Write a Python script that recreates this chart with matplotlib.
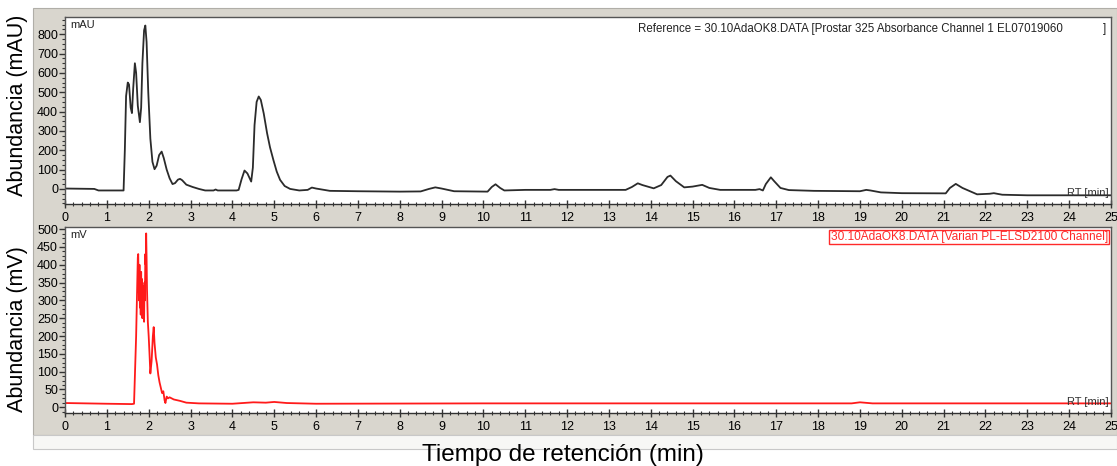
import numpy as np
import matplotlib.pyplot as plt
from matplotlib.patches import Rectangle
from matplotlib.ticker import MultipleLocator, AutoMinorLocator

plt.rcParams['font.family'] = ['Liberation Sans', 'DejaVu Sans']

# UV trace (Prostar 325, mAU)
uv_t = [0.0, 0.7, 0.8, 1.40, 1.43, 1.46, 1.50, 1.53, 1.57, 1.60, 1.63, 1.67, 1.70,
        1.74, 1.79, 1.82, 1.85, 1.89, 1.92, 1.95, 1.99, 2.04, 2.09, 2.14, 2.19, 2.25,
        2.31, 2.36, 2.43, 2.50, 2.57, 2.63, 2.70, 2.75, 2.80, 2.90, 3.05, 3.20, 3.35,
        3.55, 3.60, 3.65, 4.10, 4.15, 4.22, 4.29, 4.36, 4.45, 4.49, 4.53, 4.58, 4.63,
        4.68, 4.75, 4.83, 4.90, 4.98, 5.06, 5.14, 5.25, 5.38, 5.6, 5.8, 5.9, 6.0, 6.33,
        7.0, 8.0, 8.5, 8.7, 8.85, 9.0, 9.3, 10.1, 10.2, 10.29, 10.4, 10.5, 11.0, 11.6,
        11.7, 11.8, 13.4, 13.55, 13.69, 13.8, 14.07, 14.25, 14.4, 14.47, 14.6, 14.8,
        15.0, 15.23, 15.4, 15.66, 16.5, 16.6, 16.68, 16.75, 16.87, 16.95, 17.1, 17.3,
        17.9, 19.0, 19.15, 19.25, 19.5, 20.0, 21.05, 21.15, 21.29, 21.45, 21.8, 22.1,
        22.2, 22.4, 23.0, 24.0, 25.0]
uv_mau = [2, 0, -8, -8, 200, 480, 550, 540, 420, 392, 520, 650, 600,
          430, 345, 420, 650, 820, 845, 760, 500, 260, 140, 102, 120, 175,
          193, 160, 100, 55, 25, 30, 48, 52, 45, 22, 10, 0, -8,
          -8, -3, -8, -8, -5, 50, 95, 80, 38, 110, 330, 450, 478,
          460, 390, 288, 215, 150, 90, 47, 15, 0, -8, -5, 7, 2, -10,
          -12, -14, -13, 0, 8, 2, -12, -14, 10, 24, 5, -8, -5, -5,
          -1, -5, -5, 10, 29, 20, 3, 20, 62, 69, 40, 8,
          12, 21, 5, -5, -5, -1, -8, 25, 60, 40, 5, -6,
          -10, -12, -5, -8, -18, -22, -23, 5, 26, 5, -28, -25,
          -22, -30, -33, -33, -33]

# ELSD trace (Varian PL-ELSD2100, mV)
elsd_t = [0.0, 0.5, 1.0, 1.6, 1.65, 1.70, 1.74, 1.75, 1.76, 1.77, 1.78, 1.79, 1.80,
          1.81, 1.82, 1.83, 1.84, 1.85, 1.86, 1.87, 1.88, 1.89, 1.90, 1.91, 1.92,
          1.93, 1.94, 1.95, 1.96, 1.98, 2.00, 2.02, 2.04, 2.07, 2.10, 2.12, 2.14,
          2.17, 2.20, 2.23, 2.26, 2.29, 2.32, 2.35, 2.38, 2.40, 2.43, 2.46, 2.50,
          2.60, 2.75, 2.90, 3.2, 4.0, 4.5, 4.8, 5.0, 5.3, 6.0, 10.0, 15.0, 18.8,
          19.0, 19.3, 25.0]
elsd_mv = [12, 11, 10, 9, 10, 200, 420, 430, 350, 300, 400, 280, 330,
           260, 380, 300, 360, 250, 340, 270, 330, 240, 350, 300, 430,
           400, 488, 420, 330, 240, 200, 150, 95, 130, 200, 225, 180,
           140, 120, 90, 70, 55, 40, 45, 20, 12, 30, 25, 28,
           22, 18, 13, 11, 10, 14, 13, 15, 12, 10, 11, 11, 11,
           14, 11, 11]

fig = plt.figure(figsize=(11.17, 4.66), dpi=100)

# panel backdrop
fig.patches.append(Rectangle((33 / 1117, 1 - 435 / 466), 1084 / 1117, 427 / 466,
                             transform=fig.transFigure, facecolor='#d9d6ce',
                             edgecolor='#b0aea8', lw=0.8, zorder=-10))
fig.patches.append(Rectangle((33 / 1117, 1 - 449 / 466), 1084 / 1117, 14 / 466,
                             transform=fig.transFigure, facecolor='#f7f7f5',
                             edgecolor='#c8c8c8', lw=0.8, zorder=-10))

ax1 = fig.add_axes([65 / 1117, 1 - 204 / 466, 1046 / 1117, 187 / 466])
ax2 = fig.add_axes([65 / 1117, 1 - 413 / 466, 1046 / 1117, 186 / 466])

ax1.plot(uv_t, uv_mau, color='#2b2b2b', lw=1.3)
ax2.plot(elsd_t, elsd_mv, color='#ff1a1a', lw=1.3)

ax1.set_ylim(-78, 889)
ax2.set_ylim(-16, 506)
ax1.yaxis.set_major_locator(MultipleLocator(100))
ax2.yaxis.set_major_locator(MultipleLocator(50))

for ax in (ax1, ax2):
    ax.set_xlim(0, 25)
    ax.xaxis.set_major_locator(MultipleLocator(1))
    ax.xaxis.set_minor_locator(MultipleLocator(0.2))
    ax.yaxis.set_minor_locator(AutoMinorLocator(4))
    ax.tick_params(axis='x', which='major', direction='inout', length=6, width=1,
                   labelsize=9, pad=3, color='#333333')
    ax.tick_params(axis='x', which='minor', direction='inout', length=3, width=0.8,
                   color='#333333')
    ax.tick_params(axis='y', which='major', direction='out', length=4, width=1,
                   labelsize=9, pad=1, color='#333333')
    ax.tick_params(axis='y', which='minor', direction='out', length=2, width=0.8,
                   color='#333333')
    for s in ax.spines.values():
        s.set_color('#555555')
        s.set_linewidth(1)
    ax.spines['bottom'].set_color('#333333')
    ax.text(0.005, 0.955, 'mAU' if ax is ax1 else 'mV', transform=ax.transAxes,
            fontsize=8, ha='left', va='center', color='#222222')
    ax.text(0.998, 0.06, 'RT [min]', transform=ax.transAxes, fontsize=8,
            ha='right', va='center', color='#333333')

ax1.text(13.7, 0.936, 'Reference = 30.10AdaOK8.DATA [Prostar 325 Absorbance Channel 1 EL07019060',
         transform=ax1.get_xaxis_transform(), fontsize=8.3, ha='left', va='center',
         color='#222222')
ax1.text(24.8, 0.936, ']', transform=ax1.get_xaxis_transform(), fontsize=8.3,
         ha='left', va='center', color='#222222')
ax2.text(0.997, 0.945, '30.10AdaOK8.DATA [Varian PL-ELSD2100 Channel]',
         transform=ax2.transAxes, fontsize=8.6, ha='right', va='center', color='#ff2a2a',
         bbox=dict(boxstyle='square,pad=0.1', fc='white', ec='#ff2a2a', lw=1))

ax1.set_ylabel('Abundancia (mAU)', fontsize=15.5)
ax1.yaxis.set_label_coords(-0.035, 0.53)
ax2.set_ylabel('Abundancia (mV)', fontsize=15.5)
ax2.yaxis.set_label_coords(-0.035, 0.45)
fig.text(563 / 1117, 1 - 455 / 466, 'Tiempo de retención (min)', fontsize=17.5,
         ha='center', va='center')

fig.savefig('out.png', dpi=100)
